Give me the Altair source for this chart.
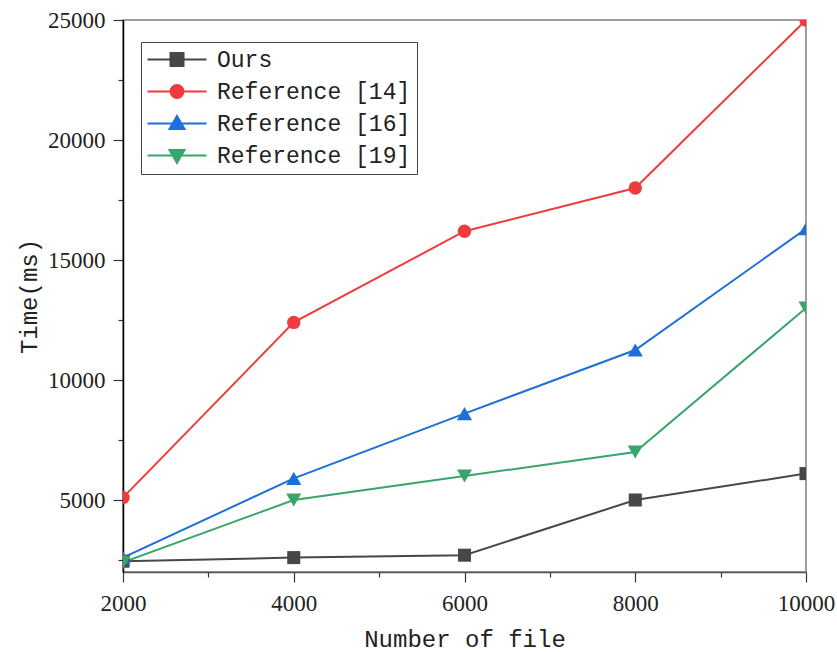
import altair as alt
import pandas as pd

file_counts = [2000, 4000, 6000, 8000, 10000]
series_names = ["Ours", "Reference [14]", "Reference [16]", "Reference [19]"]
ours = [2450, 2600, 2700, 5000, 6100]
ref14 = [5100, 12400, 16200, 18000, 25000]
ref16 = [2600, 5900, 8600, 11250, 16300]
ref19 = [2400, 5000, 6000, 7000, 13000]
series_colors = ["#474747", "#EF3B3E", "#1E6FD9", "#3AA56B"]
series_shapes = ["square", "circle", "triangle-up", "triangle-down"]
series_marker_sizes = [170, 180, 230, 230]
legend_shapes = [
    "M-1.1,0H4.8M1.2,-0.65H2.5V0.65H1.2Z",
    "M-1.1,0H4.8M1.2,0A0.65,0.65,0,1,0,2.5,0A0.65,0.65,0,1,0,1.2,0Z",
    "M-1.1,0H4.8M1.85,-0.75L2.6,0.55L1.1,0.55Z",
    "M-1.1,0H4.8M1.85,0.75L2.6,-0.55L1.1,-0.55Z",
]

x_tick_values = [2000, 3000, 4000, 5000, 6000, 7000, 8000, 9000, 10000]
y_tick_values = [2500, 5000, 7500, 10000, 12500, 15000, 17500, 20000, 22500, 25000]

rows = []
for name, vals in zip(series_names, [ours, ref14, ref16, ref19]):
    for x, v in zip(file_counts, vals):
        rows.append({"files": x, "time": v, "series": name})
df = pd.DataFrame(rows)

color_scale = alt.Scale(domain=series_names, range=series_colors)

x_enc = alt.X(
    "files:Q",
    scale=alt.Scale(domain=[2000, 10000], nice=False, zero=False),
    axis=alt.Axis(
        title="Number of file",
        values=x_tick_values,
        format="d",
        labelExpr="datum.value % 2000 === 0 ? datum.label : ''",
        labelOverlap=False,
        labelFlush=False,
        tickSize={"condition": {"test": "datum.value % 2000 === 0", "value": 10}, "value": 5},
        grid=False,
        domainColor="#555555",
        domainWidth=1.5,
        tickColor="#333333",
        tickWidth=1.2,
        labelFont="Liberation Serif",
        labelFontSize=23,
        labelColor="#222222",
        labelPadding=10,
        titleFont="Liberation Mono",
        titleFontSize=24,
        titleFontWeight="normal",
        titleColor="#222222",
        titlePadding=12,
    ),
)
y_enc = alt.Y(
    "time:Q",
    scale=alt.Scale(domain=[2000, 25000], nice=False, zero=False),
    axis=alt.Axis(
        title="Time(ms)",
        values=y_tick_values,
        format="d",
        labelExpr="datum.value % 5000 === 0 ? datum.label : ''",
        labelOverlap=False,
        labelFlush=False,
        tickSize={"condition": {"test": "datum.value % 5000 === 0", "value": 10}, "value": 5},
        grid=False,
        domainColor="#000000",
        domainWidth=1.5,
        tickColor="#333333",
        tickWidth=1.2,
        labelFont="Liberation Serif",
        labelFontSize=23,
        labelColor="#222222",
        labelPadding=8,
        titleFont="Liberation Mono",
        titleFontSize=24,
        titleFontWeight="normal",
        titleColor="#222222",
        titlePadding=6,
    ),
)

legend_def = alt.Legend(
    title=None,
    orient="none",
    legendX=18,
    legendY=22,
    strokeColor="#444444",
    fillColor="white",
    padding=6,
    labelFont="Liberation Mono",
    labelFontSize=23,
    labelColor="#222222",
    labelLimit=500,
    symbolSize=400,
    symbolStrokeWidth=2,
    symbolOpacity=1,
    labelOffset=47,
    rowPadding=8,
)

# invisible carrier layer for the legend (line + marker symbols)
legend_layer = (
    alt.Chart(df)
    .mark_point(filled=True, size=1, strokeWidth=2)
    .encode(
        x=x_enc,
        y=y_enc,
        opacity=alt.value(0),
        fill=alt.Fill("series:N", scale=alt.Scale(domain=series_names, range=series_colors), legend=legend_def),
        stroke=alt.Stroke("series:N", scale=alt.Scale(domain=series_names, range=series_colors), legend=legend_def),
        shape=alt.Shape("series:N", scale=alt.Scale(domain=series_names, range=legend_shapes), legend=legend_def),
    )
)

lines = alt.Chart(df).mark_line(strokeWidth=2, clip=True).encode(
    x=alt.X("files:Q"),
    y=alt.Y("time:Q"),
    color=alt.Color("series:N", scale=color_scale, legend=None),
    order=alt.Order("files:Q"),
)

point_layers = []
for name, shp, sz in zip(series_names, series_shapes, series_marker_sizes):
    point_layers.append(
        alt.Chart(df)
        .transform_filter(alt.datum.series == name)
        .mark_point(filled=True, shape=shp, size=sz, opacity=1, clip=True)
        .encode(
            x=alt.X("files:Q"),
            y=alt.Y("time:Q"),
            color=alt.Color("series:N", scale=color_scale, legend=None),
        )
    )

chart = (
    alt.layer(legend_layer, lines, *point_layers)
    .properties(
        width=683,
        height=552,
        autosize=alt.AutoSizeParams(type="none"),
        padding={"left": 123, "top": 20, "right": 31, "bottom": 80},
        background="white",
    )
    .configure_view(stroke="#808080", strokeWidth=1.5)
)

chart.save("out.html", embed_options={"renderer": "svg", "actions": False})
